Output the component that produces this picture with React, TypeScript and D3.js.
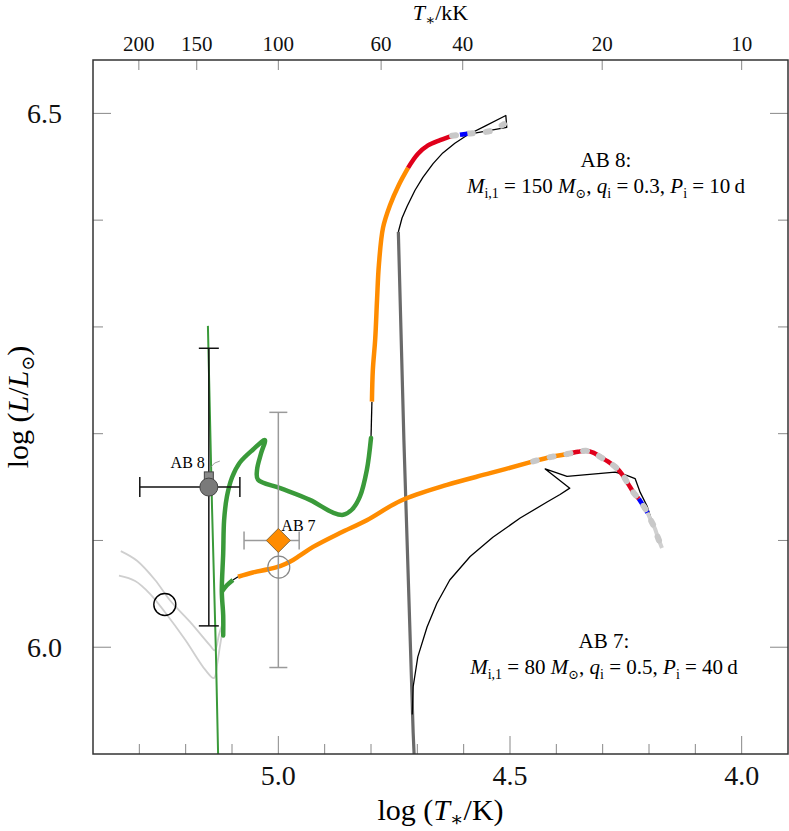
import React from 'react';
import * as d3 from 'd3';

// ---------- data (log T*, log L) ----------
const logTDomain = [5.4, 3.9];
const logLDomain = [5.9, 6.55];
const bottomMajorTicks = [5.0, 4.5, 4.0];
const bottomMinorTicks = [5.3, 5.2, 5.1, 4.9, 4.8, 4.7, 4.6, 4.4, 4.3, 4.2, 4.1];
const leftMajorTicks = [6.0, 6.5];
const leftMinorTicks = [6.1, 6.2, 6.3, 6.4];
const topTicksKK = [200, 150, 100, 60, 40, 20, 10];

const greenThin = [[5.152, 6.301], [5.143, 6.129], [5.135, 6.0], [5.13, 5.9]];
const grayThick = [[4.741, 6.389], [4.729, 6.194], [4.709, 5.92], [4.707, 5.9]];

const lightGray1 = [[5.34, 6.09], [5.305, 6.081], [5.266, 6.063], [5.234, 6.044], [5.191, 6.024], [5.148, 6.002], [5.137, 5.997], [5.128, 6.012], [5.122, 6.02]];
const lightGray2 = [[5.344, 6.067], [5.309, 6.062], [5.277, 6.05], [5.245, 6.033], [5.201, 6.007], [5.158, 5.979], [5.139, 5.971], [5.132, 5.984], [5.126, 6.001], [5.119, 6.019]];

const ab8BlackTop = [[4.741, 6.389], [4.733, 6.402], [4.722, 6.413], [4.705, 6.428], [4.688, 6.44], [4.666, 6.453], [4.645, 6.463], [4.619, 6.472], [4.591, 6.48], [4.554, 6.488], [4.509, 6.498], [4.507, 6.487], [4.543, 6.484], [4.582, 6.481], [4.604, 6.479]];
const ab8Orange = [[4.798, 6.23], [4.796, 6.26], [4.791, 6.288], [4.787, 6.325], [4.783, 6.358], [4.774, 6.393], [4.759, 6.414], [4.74, 6.433], [4.72, 6.449]];
const ab8Red = [[4.72, 6.449], [4.699, 6.462], [4.677, 6.47], [4.651, 6.475], [4.625, 6.479]];
const ab8Blue = [[4.608, 6.48], [4.592, 6.481]];
const ab8Dashed = [[4.625, 6.479], [4.608, 6.48], [4.591, 6.481], [4.565, 6.482], [4.539, 6.484], [4.513, 6.49]];
const ab8Link = [[4.798, 6.23], [4.8, 6.196]];
const ab8Green = [[4.8, 6.196], [4.809, 6.166], [4.824, 6.141], [4.841, 6.129], [4.86, 6.124], [4.882, 6.126], [4.932, 6.138], [4.996, 6.149], [5.044, 6.157], [5.046, 6.166], [5.037, 6.182], [5.029, 6.194], [5.055, 6.185], [5.083, 6.173], [5.1, 6.159], [5.111, 6.141], [5.117, 6.119], [5.119, 6.088], [5.122, 6.052], [5.119, 6.03], [5.119, 6.011]];
const ab8GreenBranch = [[5.122, 6.052], [5.111, 6.058], [5.098, 6.063]];

const ab7Link = [[5.098, 6.063], [5.087, 6.066]];
const ab7Orange = [[5.087, 6.066], [5.055, 6.07], [5.022, 6.073], [4.996, 6.076], [4.975, 6.08], [4.953, 6.086], [4.925, 6.094], [4.867, 6.107], [4.809, 6.119], [4.737, 6.137], [4.636, 6.152], [4.543, 6.163], [4.45, 6.174], [4.414, 6.178], [4.376, 6.181]];
const ab7Red = [[4.376, 6.181], [4.353, 6.183], [4.336, 6.184], [4.319, 6.182], [4.304, 6.178], [4.289, 6.174], [4.273, 6.169], [4.258, 6.162], [4.245, 6.153], [4.232, 6.144], [4.222, 6.139]];
const ab7Blue = [[4.222, 6.139], [4.213, 6.133], [4.203, 6.126]];
const ab7Tail = [[4.203, 6.126], [4.196, 6.119], [4.187, 6.111], [4.181, 6.103], [4.172, 6.093]];
const ab7DashStart = 4.451;
const ab7Black = [[4.711, 5.937], [4.709, 5.963], [4.699, 5.991], [4.679, 6.019], [4.658, 6.041], [4.63, 6.063], [4.586, 6.085], [4.537, 6.103], [4.478, 6.121], [4.42, 6.136], [4.392, 6.143], [4.371, 6.149], [4.424, 6.167], [4.377, 6.16], [4.273, 6.164], [4.248, 6.161], [4.23, 6.158], [4.219, 6.145], [4.204, 6.132], [4.196, 6.121]];

// observed stars and models
const ab8Obs = { t: 5.15, l: 6.15, tLo: 5.083, tHi: 5.299, lLo: 6.02, lHi: 6.28 };
const ab8Square = { t: 5.15, l: 6.16 };
const ab7Obs = { t: 5.0, l: 6.1, tLo: 4.955, tHi: 5.074, lLo: 5.981, lHi: 6.22 };
const ab8Model = { t: 5.245, l: 6.04 };
const ab7Model = { t: 4.999, l: 6.075 };

const FONT = "'Liberation Serif', 'Times New Roman', 'DejaVu Serif', serif";

export default function App() {
  const L = 93, R = 788, T = 60, B = 754;
  const x = d3.scaleLinear().domain(logTDomain).range([L, R]);
  const y = d3.scaleLinear().domain(logLDomain).range([B, T]);
  const lin = d3.line<number[]>().x(d => x(d[0])).y(d => y(d[1]));
  const smooth = d3.line<number[]>().x(d => x(d[0])).y(d => y(d[1])).curve(d3.curveCatmullRom.alpha(0.5));

  const ab7Full = [...ab7Orange, ...ab7Red.slice(1), ...ab7Blue.slice(1), ...ab7Tail.slice(1)];
  const ab7Dashed = ab7Full.filter(p => p[0] <= ab7DashStart);

  const ab8 = ab8Obs;
  const ab7 = ab7Obs;
  const cap = 9;

  return (
    <svg width={789} height={831} style={{ position: 'absolute', left: 0, top: 0, background: '#fff' }} fontFamily={FONT}>
      <defs>
        <clipPath id="plot"><rect x={L} y={T} width={R - L} height={B - T} /></clipPath>
      </defs>
      <g clipPath="url(#plot)" fill="none" strokeLinejoin="round">
        <path d={smooth(lightGray1) || ''} stroke="#cfcfcf" strokeWidth={1.8} />
        <path d={smooth(lightGray2) || ''} stroke="#cfcfcf" strokeWidth={1.8} />
        <path d={lin(grayThick) || ''} stroke="#6a6a6a" strokeWidth={3.2} />
        <path d={lin(ab8BlackTop) || ''} stroke="#000" strokeWidth={1.3} />
        <path d={lin(ab7Black) || ''} stroke="#000" strokeWidth={1.3} />
        <path d={lin(ab8Link) || ''} stroke="#000" strokeWidth={1.3} />
        <path d={lin(ab7Link) || ''} stroke="#000" strokeWidth={1.3} />
        <path d={lin(greenThin) || ''} stroke="#3a9a3a" strokeWidth={2} />
        <path d={smooth(ab8Green) || ''} stroke="#3a9a3a" strokeWidth={4.5} strokeLinecap="round" />
        <path d={smooth(ab8GreenBranch) || ''} stroke="#3a9a3a" strokeWidth={4.5} />
        <path d={smooth(ab8Orange) || ''} stroke="#ff8c00" strokeWidth={4.5} />
        <path d={smooth(ab8Red) || ''} stroke="#e0001b" strokeWidth={4.5} />
        <path d={smooth(ab8Dashed) || ''} stroke="#c8c8c8" strokeWidth={6} strokeDasharray="4 13" strokeLinecap="round" />
        <path d={lin(ab8Blue) || ''} stroke="#0000ff" strokeWidth={4.5} />
        <path d={smooth(ab7Orange) || ''} stroke="#ff8c00" strokeWidth={4.5} />
        <path d={smooth(ab7Red) || ''} stroke="#e0001b" strokeWidth={4.5} />
        <path d={smooth(ab7Blue) || ''} stroke="#0000ff" strokeWidth={4.5} />
        <path d={smooth(ab7Tail) || ''} stroke="#d0d0d0" strokeWidth={4} />
        <path d={smooth(ab7Dashed) || ''} stroke="#c8c8c8" strokeWidth={6} strokeDasharray="4 13" strokeLinecap="round" />
      </g>

      {/* AB 7 error bars (gray) */}
      <g stroke="#9a9a9a" strokeWidth={1.5}>
        <line x1={x(ab7.tHi)} x2={x(ab7.tLo)} y1={y(ab7.l)} y2={y(ab7.l)} />
        <line x1={x(ab7.tHi)} x2={x(ab7.tHi)} y1={y(ab7.l) - cap} y2={y(ab7.l) + cap} />
        <line x1={x(ab7.tLo)} x2={x(ab7.tLo)} y1={y(ab7.l) - cap} y2={y(ab7.l) + cap} />
        <line x1={x(ab7.t)} x2={x(ab7.t)} y1={y(ab7.lHi)} y2={y(ab7.lLo)} />
        <line x1={x(ab7.t) - cap} x2={x(ab7.t) + cap} y1={y(ab7.lHi)} y2={y(ab7.lHi)} />
        <line x1={x(ab7.t) - cap} x2={x(ab7.t) + cap} y1={y(ab7.lLo)} y2={y(ab7.lLo)} />
      </g>
      {/* AB 8 error bars (black) */}
      <g stroke="#111" strokeWidth={1.5}>
        <line x1={x(ab8.tHi)} x2={x(ab8.tLo)} y1={y(ab8.l)} y2={y(ab8.l)} />
        <line x1={x(ab8.tHi)} x2={x(ab8.tHi)} y1={y(ab8.l) - cap - 1} y2={y(ab8.l) + cap + 1} />
        <line x1={x(ab8.tLo)} x2={x(ab8.tLo)} y1={y(ab8.l) - cap - 1} y2={y(ab8.l) + cap + 1} />
        <line x1={x(ab8.t)} x2={x(ab8.t)} y1={y(ab8.lHi)} y2={y(ab8.lLo)} />
        <line x1={x(ab8.t) - 10} x2={x(ab8.t) + 10} y1={y(ab8.lHi)} y2={y(ab8.lHi)} />
        <line x1={x(ab8.t) - 10} x2={x(ab8.t) + 10} y1={y(ab8.lLo)} y2={y(ab8.lLo)} />
      </g>

      {/* model circles */}
      <circle cx={x(ab8Model.t)} cy={y(ab8Model.l)} r={11} fill="none" stroke="#000" strokeWidth={1.4} />
      <circle cx={x(ab7Model.t)} cy={y(ab7Model.l)} r={11} fill="none" stroke="#888" strokeWidth={1.2} />

      {/* AB 8 markers */}
      <rect x={x(ab8Square.t) - 4.5} y={y(ab8Square.l) - 4.5} width={9} height={9} fill="#8a8a8a" stroke="#444" strokeWidth={1} />
      <circle cx={x(ab8.t)} cy={y(ab8.l)} r={9} fill="#7a7a7a" stroke="#444" strokeWidth={1} />
      <path d={`M${x(ab8.t) + 2},${y(ab8.l) - 20} q3,-5 9,-6`} fill="none" stroke="#888" strokeWidth={0.8} />
      <text x={x(ab8.t) - 4} y={y(ab8.l) - 19} fontSize={16} textAnchor="end">AB 8</text>

      {/* AB 7 marker */}
      <path d={`M${x(ab7.t)},${y(ab7.l) - 12} L${x(ab7.t) + 12},${y(ab7.l)} L${x(ab7.t)},${y(ab7.l) + 12} L${x(ab7.t) - 12},${y(ab7.l)} Z`} fill="#ff8c00" stroke="#8a6a3a" strokeWidth={1} />
      <text x={x(ab7.t) + 3} y={y(ab7.l) - 9} fontSize={16}>AB 7</text>

      {/* annotations */}
      <text x={606} y={167} fontSize={21} textAnchor="middle">AB 8:</text>
      <text x={606} y={193} fontSize={21} textAnchor="middle">
        <tspan fontStyle="italic">M</tspan>
        <tspan fontSize={14} dy={5}>i,1</tspan>
        <tspan dy={-5}>{' = 150 '}</tspan>
        <tspan fontStyle="italic">M</tspan>
        <tspan fontSize={13} dy={5}>⊙</tspan>
        <tspan dy={-5}>{', '}</tspan>
        <tspan fontStyle="italic">q</tspan>
        <tspan fontSize={14} dy={5}>i</tspan>
        <tspan dy={-5}>{' = 0.3, '}</tspan>
        <tspan fontStyle="italic">P</tspan>
        <tspan fontSize={14} dy={5}>i</tspan>
        <tspan dy={-5}>{' = 10\u2009d'}</tspan>
      </text>
      <text x={604} y={648} fontSize={21} textAnchor="middle">AB 7:</text>
      <text x={604} y={674} fontSize={21} textAnchor="middle">
        <tspan fontStyle="italic">M</tspan>
        <tspan fontSize={14} dy={5}>i,1</tspan>
        <tspan dy={-5}>{' = 80 '}</tspan>
        <tspan fontStyle="italic">M</tspan>
        <tspan fontSize={13} dy={5}>⊙</tspan>
        <tspan dy={-5}>{', '}</tspan>
        <tspan fontStyle="italic">q</tspan>
        <tspan fontSize={14} dy={5}>i</tspan>
        <tspan dy={-5}>{' = 0.5, '}</tspan>
        <tspan fontStyle="italic">P</tspan>
        <tspan fontSize={14} dy={5}>i</tspan>
        <tspan dy={-5}>{' = 40\u2009d'}</tspan>
      </text>

      {/* ticks */}
      <g stroke="#888" strokeWidth={1}>
        {bottomMajorTicks.map(t => <line key={'bM' + t} x1={x(t)} x2={x(t)} y1={B} y2={B - 18} />)}
        {bottomMinorTicks.map(t => <line key={'bm' + t} x1={x(t)} x2={x(t)} y1={B} y2={B - 10} />)}
        {leftMajorTicks.map(v => <line key={'lM' + v} x1={L} x2={L + 18} y1={y(v)} y2={y(v)} />)}
        {leftMinorTicks.map(v => <line key={'lm' + v} x1={L} x2={L + 10} y1={y(v)} y2={y(v)} />)}
        {leftMajorTicks.map(v => <line key={'rM' + v} x1={R} x2={R - 18} y1={y(v)} y2={y(v)} />)}
        {leftMinorTicks.map(v => <line key={'rm' + v} x1={R} x2={R - 10} y1={y(v)} y2={y(v)} />)}
        {topTicksKK.map(k => <line key={'t' + k} x1={x(Math.log10(k * 1000))} x2={x(Math.log10(k * 1000))} y1={T} y2={T + 10} />)}
      </g>
      <rect x={L} y={T} width={R - L} height={B - T} fill="none" stroke="#333" strokeWidth={1.5} />

      {/* tick labels */}
      <g fontSize={28} fill="#111">
        {bottomMajorTicks.map(t => <text key={'bl' + t} x={x(t)} y={785} textAnchor="middle">{t.toFixed(1)}</text>)}
        {leftMajorTicks.map(v => <text key={'ll' + v} x={62} y={y(v)} dy="0.35em" textAnchor="end">{v.toFixed(1)}</text>)}
      </g>
      <g fontSize={21} fill="#111">
        {topTicksKK.map(k => <text key={'tl' + k} x={x(Math.log10(k * 1000))} y={51} textAnchor="middle">{k}</text>)}
      </g>

      {/* axis titles */}
      <text x={(L + R) / 2} y={820} fontSize={30} textAnchor="middle">
        {'log ('}<tspan fontStyle="italic">T</tspan><tspan fontSize={20} dy={6}>∗</tspan><tspan dy={-6}>{'/K)'}</tspan>
      </text>
      <text x={(L + R) / 2} y={20} fontSize={22} textAnchor="middle">
        <tspan fontStyle="italic">T</tspan><tspan fontSize={15} dy={5}>∗</tspan><tspan dy={-5}>{'/kK'}</tspan>
      </text>
      <text transform={`translate(28,${(T + B) / 2}) rotate(-90)`} fontSize={30} textAnchor="middle">
        {'log ('}<tspan fontStyle="italic">L</tspan>{'/'}<tspan fontStyle="italic">L</tspan><tspan fontSize={18} dy={6}>⊙</tspan><tspan dy={-6}>{')'}</tspan>
      </text>
    </svg>
  );
}
